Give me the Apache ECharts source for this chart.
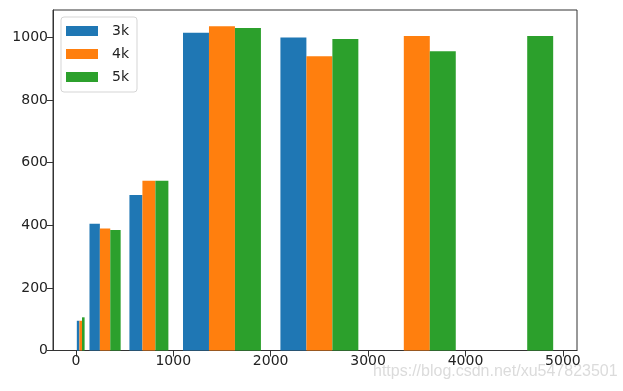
<!DOCTYPE html>
<html>
<head>
<meta charset="utf-8">
<script src="https://cdn.jsdelivr.net/npm/echarts@6/dist/echarts.min.js"></script>
<style>
html,body{margin:0;padding:0;background:#fff;}
#chart{width:623px;height:391px;}
</style>
</head>
<body>
<div id="chart"></div>
<script>
// Histogram bin edges and counts per dataset
var binEdges = [0, 100, 500, 1000, 2000, 3000, 4000, 5000];
var seriesNames = ['3k', '4k', '5k'];
var counts3k = [95, 405, 497, 1015, 1000, 0, 0];
var counts4k = [95, 390, 542, 1036, 940, 1005, 0];
var counts5k = [106, 385, 542, 1030, 995, 956, 1005];
var colors = ['#1f77b4', '#ff7f0e', '#2ca02c'];
var xTickLabels = [0, 1000, 2000, 3000, 4000, 5000];
var yTickLabels = [0, 200, 400, 600, 800, 1000];

var allCounts = [counts3k, counts4k, counts5k];
var nSeries = allCounts.length;

function buildData(counts) {
  var d = [];
  for (var i = 0; i < counts.length; i++) {
    d.push([binEdges[i], binEdges[i + 1], counts[i]]);
  }
  return d;
}

function makeRender(sIdx) {
  return function (params, api) {
    var start = api.value(0), end = api.value(1), h = api.value(2);
    var w = end - start;
    var bw = 0.8 * w / nSeries;
    var x0 = start + 0.1 * w + sIdx * bw;
    var x1 = x0 + bw;
    var p0 = api.coord([x0, h]);
    var p1 = api.coord([x1, 0]);
    return {
      type: 'rect',
      shape: { x: p0[0], y: p0[1], width: p1[0] - p0[0], height: p1[1] - p0[1] },
      style: { fill: colors[sIdx] }
    };
  };
}

// data extent like matplotlib autoscale (5% margins)
var xDataMin = binEdges[0] + 0.1 * (binEdges[1] - binEdges[0]);
var lastW = binEdges[binEdges.length - 1] - binEdges[binEdges.length - 2];
var xDataMax = binEdges[binEdges.length - 1] - 0.1 * lastW;
var xPad = 0.05 * (xDataMax - xDataMin);
var yMaxData = Math.max.apply(null, counts3k.concat(counts4k, counts5k));

var series = [];
for (var s = 0; s < nSeries; s++) {
  series.push({
    name: seriesNames[s],
    type: 'custom',
    renderItem: makeRender(s),
    encode: { x: [0, 1], y: 2 },
    data: buildData(allCounts[s]),
    itemStyle: { color: colors[s] },
    animation: false
  });
}

var plain = function (v) { return String(v); };
var chart = echarts.init(document.getElementById('chart'), null, { renderer: 'canvas' });
var labelStyle = { color: '#222', fontSize: 14, fontFamily: 'DejaVu Sans' };
chart.setOption({
  animation: false,
  grid: {
    left: 53, right: 46, top: 10, bottom: 40.5,
    show: true, borderColor: '#333', borderWidth: 1, backgroundColor: 'transparent'
  },
  legend: {
    left: 61, top: 17, orient: 'vertical',
    itemWidth: 32, itemHeight: 10, itemGap: 7,
    padding: [6, 8, 7, 5],
    backgroundColor: 'rgba(255,255,255,0.8)',
    borderColor: '#d5d5d5', borderWidth: 1, borderRadius: 3,
    icon: 'rect',
    textStyle: { color: '#222', fontSize: 14, fontFamily: 'DejaVu Sans', lineHeight: 16, padding: [0, 0, 0, 9] },
    data: seriesNames
  },
  xAxis: {
    type: 'value',
    min: xDataMin - xPad,
    max: xDataMax + xPad,
    splitLine: { show: false },
    axisLine: { show: true, onZero: false, lineStyle: { color: '#333', width: 1 } },
    axisTick: { show: true, length: 6, lineStyle: { color: '#333' }, customValues: xTickLabels },
    axisLabel: Object.assign({ margin: 4, customValues: xTickLabels, formatter: plain }, labelStyle)
  },
  yAxis: {
    type: 'value',
    min: 0,
    max: yMaxData * 1.05,
    splitLine: { show: false },
    axisLine: { show: true, onZero: false, lineStyle: { color: '#333', width: 1 } },
    axisTick: { show: true, length: 6, lineStyle: { color: '#333' }, customValues: yTickLabels },
    axisLabel: Object.assign({ margin: 5, customValues: yTickLabels, formatter: plain }, labelStyle)
  },
  graphic: [{
    type: 'text',
    left: 373, top: 364,
    silent: true,
    style: {
      text: 'https://blog.csdn.net/xu547823501',
      fill: 'rgba(190,190,190,0.55)',
      font: '16px "Liberation Sans"'
    }
  }],
  series: series
});
</script>
</body>
</html>
